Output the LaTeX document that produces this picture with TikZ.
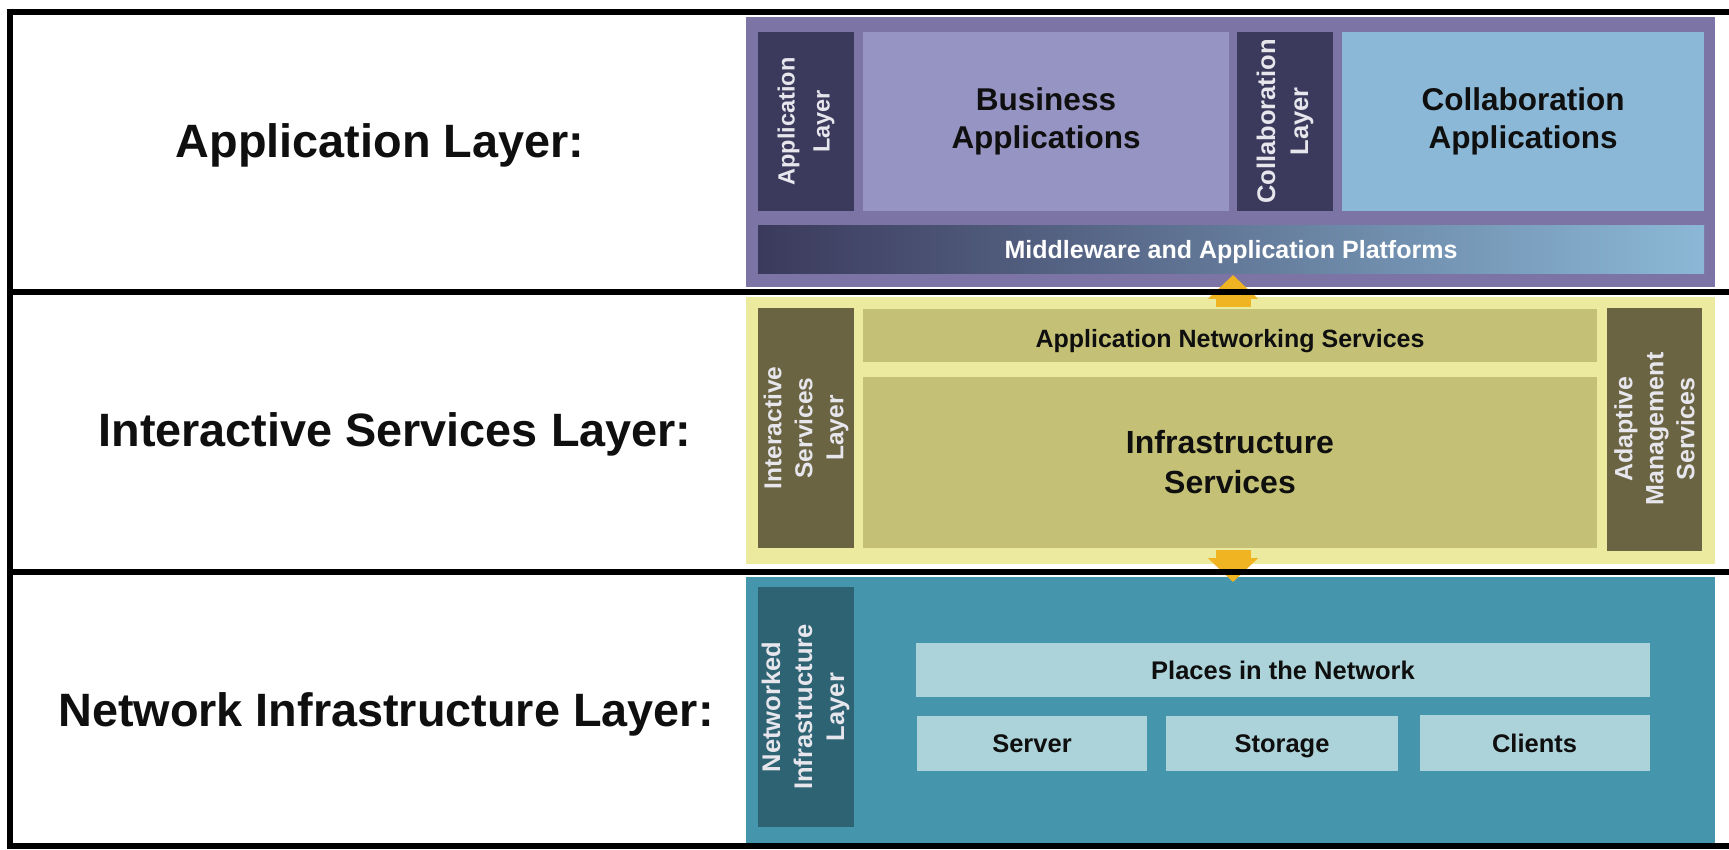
\documentclass[tikz,border=0pt]{standalone}
\usepackage{fontspec}
\setmainfont{Liberation Sans}
\usetikzlibrary{arrows.meta}

% layer colours
\definecolor{appPanel}{RGB}{124,116,164}
\definecolor{appDark}{RGB}{59,58,92}
\definecolor{appBiz}{RGB}{150,148,194}
\definecolor{appCollab}{RGB}{139,184,214}
\definecolor{svcPanel}{RGB}{236,234,158}
\definecolor{svcBox}{RGB}{196,193,118}
\definecolor{svcDark}{RGB}{106,100,66}
\definecolor{netPanel}{RGB}{69,150,172}
\definecolor{netDark}{RGB}{46,99,116}
\definecolor{netBox}{RGB}{173,211,218}
\definecolor{flowOrange}{RGB}{240,180,35}
\definecolor{sideText}{RGB}{230,230,236}
\definecolor{inkText}{RGB}{15,15,15}

\begin{document}
\begin{tikzpicture}[x=1pt,y=-1pt,
  every node/.style={inner sep=0pt, outer sep=0pt},
  rectat/.style 2 args={minimum width=#1pt, minimum height=#2pt},
  panel/.style={draw=none},
  sidebox/.style={rotate=90, align=center, text=sideText,
    font=\bfseries\fontsize{25}{32}\selectfont},
  mainbox/.style={align=center, text=inkText},
  bigtxt/.style={font=\bfseries\fontsize{31.5}{38}\selectfont},
  % one-line labels: caps centred on the box
  onerow/.style={text height=18pt, text depth=0pt},
  midtxt/.style={font=\bfseries\fontsize{25}{30}\selectfont, onerow},
  smalltxt/.style={font=\bfseries\fontsize{25.5}{30}\selectfont, onerow},
  layerlabel/.style={anchor=base, text=inkText,
    font=\bfseries\fontsize{46.8}{56}\selectfont},
  frameline/.style={line width=6.5pt, draw=black},
  flow/.style={draw=flowOrange, line width=35pt,
    -{Triangle[width=49pt,length=24pt]}}
]
% page
\fill[white] (0,0) rectangle (1729,850);
\useasboundingbox (0,0) rectangle (1729,850);

% ---------------- application layer ----------------
\node[panel, rectat={969}{270}, fill=appPanel] (appP) at (1230.5,152) {};
\node[sidebox, rectat={179}{96}, fill=appDark,
  font=\bfseries\fontsize{23.5}{35}\selectfont] (appSide) at (806,121.5) {Application\\Layer};
\node[mainbox, bigtxt, rectat={366}{179}, fill=appBiz] (biz) at (1046,121.5) {Business\\Applications};
\node[sidebox, rectat={179}{96}, fill=appDark,
  font=\bfseries\fontsize{25.5}{33}\selectfont] (colSide) at (1285,121.5) {Collaboration\\Layer};
\node[mainbox, bigtxt, rectat={362}{179}, fill=appCollab] (colApp) at (1523,121.5) {Collaboration\\Applications};
\node[midtxt, rectat={946}{48}, left color=appDark, right color=appCollab,
  text=white] (mw) at (1231,249.5) {Middleware and Application Platforms};

% ---------------- interactive services layer ----------------
\node[panel, rectat={969}{267}, fill=svcPanel] (svcP) at (1230.5,430.5) {};
\node[sidebox, rectat={240}{96}, fill=svcDark,
  font=\bfseries\fontsize{24.5}{31}\selectfont] (svcSide) at (806,428) {Interactive\\Services\\Layer};
\node[mainbox, midtxt, text height=24pt, rectat={734}{53}, fill=svcBox] (ans) at (1230,335.5) {Application Networking Services};
\node[mainbox, font=\bfseries\fontsize{32}{40}\selectfont, rectat={734}{171}, fill=svcBox] (infra) at (1230,462.5) {Infrastructure\\Services};
\node[sidebox, rectat={243}{95}, fill=svcDark,
  font=\bfseries\fontsize{25}{31}\selectfont] (amsSide) at (1654.5,429) {Adaptive\\Management\\Services};

% ---------------- network infrastructure layer ----------------
\node[panel, rectat={969}{266}, fill=netPanel] (netP) at (1230.5,710) {};
\node[sidebox, rectat={240}{96}, fill=netDark,
  font=\bfseries\fontsize{25.5}{32}\selectfont] (netSide) at (805.5,707) {Networked\\Infrastructure\\Layer};
\node[mainbox, smalltxt, rectat={734}{54}, fill=netBox] (places) at (1283,670) {Places in the Network};
\node[mainbox, smalltxt, rectat={230}{55}, fill=netBox] (server) at (1032,743) {Server};
\node[mainbox, smalltxt, rectat={232}{55}, fill=netBox] (storage) at (1282,743.5) {Storage};
\node[mainbox, smalltxt, rectat={230}{56}, fill=netBox] (clients) at (1534.5,743) {Clients};

% ---------------- flows between the layers ----------------
\coordinate (upFrom) at (1233,307);
\coordinate (upTo) at (1233,275);
\coordinate (downFrom) at (1233,550);
\coordinate (downTo) at (1233,582);
\draw[flow] (upFrom) -- (upTo);
\draw[flow] (downFrom) -- (downTo);

% ---------------- frame ----------------
\draw[frameline] (10,8.75) -- (10,849.25);
\draw[frameline] (6.75,12) -- (1729,12);
\draw[frameline] (6.75,292) -- (1729,292);
\draw[frameline] (6.75,572) -- (1729,572);
\draw[frameline] (6.75,846) -- (1729,846);

% ---------------- row labels ----------------
\node[layerlabel] (lblApp) at (380,158) {Application Layer:};
\node[layerlabel] (lblSvc) at (395,446) {Interactive Services Layer:};
\node[layerlabel] (lblNet) at (386,726) {Network Infrastructure Layer:};
\end{tikzpicture}
\end{document}
